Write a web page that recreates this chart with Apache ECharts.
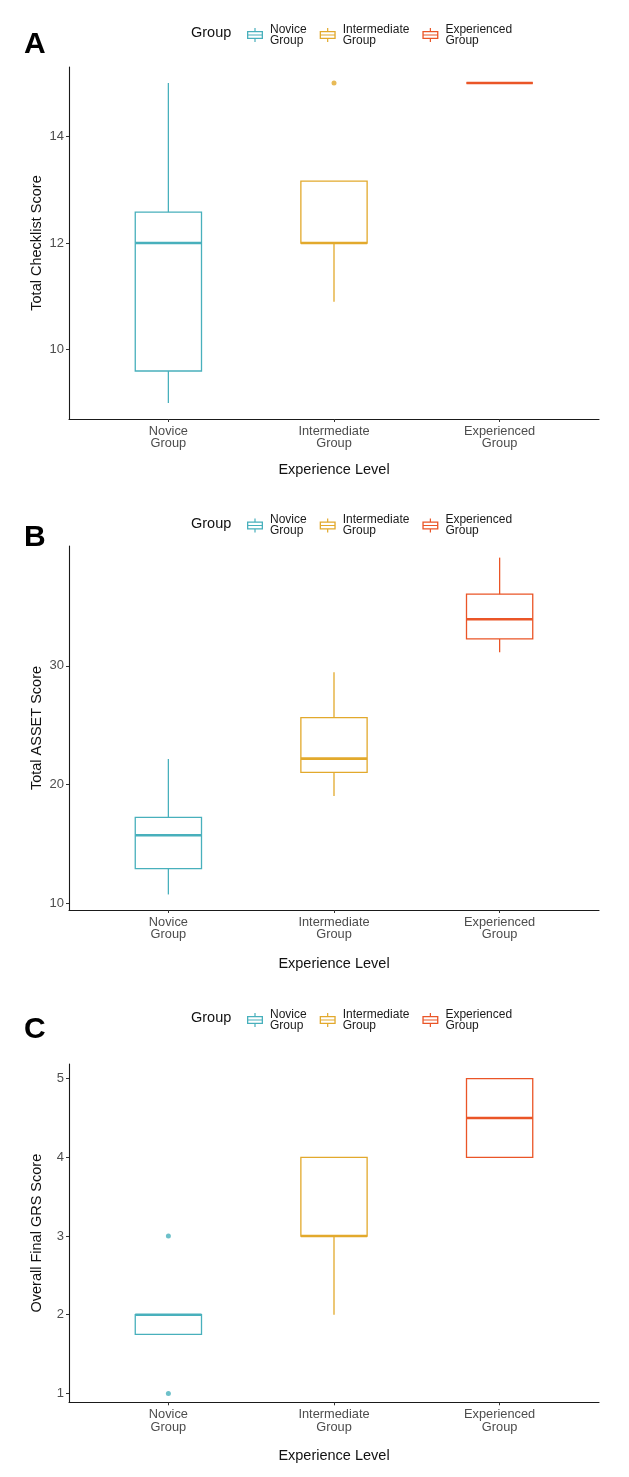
<!DOCTYPE html>
<html><head><meta charset="utf-8">
<script src="https://cdn.jsdelivr.net/npm/echarts@6/dist/echarts.min.js"></script>
<style>html,body{margin:0;padding:0;background:#fff}#chart{width:629px;height:1477px}</style>
</head><body><div id="chart"></div>
<script>
// ---------- data ----------
const categories = ['Novice Group', 'Intermediate Group', 'Experienced Group'];
const groupColors = ['#48B0BC', '#E2A92C', '#EA5527'];
// each box: [min, Q1, median, Q3, max]
const checklistBoxes = [[9, 9.6, 12, 12.58, 15], [10.9, 12, 12, 13.16, 13.16], [15, 15, 15, 15, 15]];
const checklistOutliers = [[], [15], []];
const assetBoxes = [[10.75, 12.92, 15.73, 17.25, 22.16], [19.04, 21.04, 22.19, 25.64, 29.47], [31.15, 32.27, 33.93, 36.04, 39.12]];
const assetOutliers = [[], [], []];
const grsBoxes = [[1.75, 1.75, 2, 2, 2], [2, 3, 3, 4, 4], [4, 4, 4.5, 5, 5]];
const grsOutliers = [[1, 3], [], []];
const checklistTicks = [10, 12, 14];
const assetTicks = [10, 20, 30];
const grsTicks = [1, 2, 3, 4, 5];
const panelLetters = ['A', 'B', 'C'];
const yTitles = ['Total Checklist Score', 'Total ASSET Score', 'Overall Final GRS Score'];
const xTitle = 'Experience Level';
const legendTitle = 'Group';

// ---------- layout ----------
const FONT = 'Liberation Sans, Arial, Helvetica, sans-serif';
const HALF_BOX = 0.2;
const panels = [
  {boxes: checklistBoxes, outliers: checklistOutliers, ticks: checklistTicks, min: 8.7, max: 15.3, top: 67, height: 352, legendTop: 22, groupTop: 24.5, letterTop: 30, nameGap: 43},
  {boxes: assetBoxes, outliers: assetOutliers, ticks: assetTicks, min: 9.44, max: 40.1, top: 546, height: 364, legendTop: 512.5, groupTop: 516, letterTop: 522.5, nameGap: 46},
  {boxes: grsBoxes, outliers: grsOutliers, ticks: grsTicks, min: 0.887, max: 5.187, top: 1064, height: 338.3, legendTop: 1007, groupTop: 1009.5, letterTop: 1014.5, nameGap: 46}
];
const ICON = 'path://M0,3H16V11H0Z M1.3,4.3V9.7H14.7V4.3Z M0,6.4H16V7.6H0Z M7.4,0H8.6V3H7.4Z M7.4,11H8.6V14H7.4Z';

function renderBox(params, api) {
  const x = api.value(0);
  const v = [1, 2, 3, 4, 5].map(i => api.value(i));
  const color = api.visual('color');
  const lo = api.coord([x, v[0]]), q1 = api.coord([x, v[1]]), q3 = api.coord([x, v[3]]), hi = api.coord([x, v[4]]);
  const tl = api.coord([x - HALF_BOX, v[3]]), br = api.coord([x + HALF_BOX, v[1]]);
  const ml = api.coord([x - HALF_BOX, v[2]]), mr = api.coord([x + HALF_BOX, v[2]]);
  const thin = {stroke: color, lineWidth: 1.3, fill: null};
  const children = [];
  if (v[0] < v[1]) children.push({type: 'line', shape: {x1: lo[0], y1: lo[1], x2: q1[0], y2: q1[1]}, style: thin});
  if (v[4] > v[3]) children.push({type: 'line', shape: {x1: q3[0], y1: q3[1], x2: hi[0], y2: hi[1]}, style: thin});
  children.push({type: 'rect', shape: {x: tl[0], y: tl[1], width: br[0] - tl[0], height: br[1] - tl[1]}, style: {stroke: color, lineWidth: 1.3, fill: null}});
  children.push({type: 'line', shape: {x1: ml[0], y1: ml[1], x2: mr[0], y2: mr[1]}, style: {stroke: color, lineWidth: 2.6, fill: null}});
  return {type: 'group', children: children};
}

const grid = [], xAxis = [], yAxis = [], series = [], legend = [], title = [];
const axisLine = {show: true, lineStyle: {color: '#1a1a1a', width: 1.1}};
const axisTickStyle = {lineStyle: {color: '#333', width: 1}};
panels.forEach((p, pi) => {
  grid.push({left: 69, top: p.top, width: 530, height: p.height});
  xAxis.push({
    type: 'value', gridIndex: pi, min: 0.4, max: 3.6,
    axisLine: axisLine, splitLine: {show: false},
    axisTick: Object.assign({show: true, length: 3, customValues: [1, 2, 3]}, axisTickStyle),
    axisLabel: {customValues: [1, 2, 3], formatter: v => categories[Math.round(v) - 1].replace(' ', '\n'),
      fontFamily: FONT, fontSize: 12.8, lineHeight: 12.6, color: '#4d4d4d', margin: 6},
    name: xTitle, nameLocation: 'middle', nameGap: p.nameGap, nameMoveOverlap: false,
    nameTextStyle: {fontFamily: FONT, fontSize: 14.5, lineHeight: 16, color: '#111'}
  });
  yAxis.push({
    type: 'value', gridIndex: pi, min: p.min, max: p.max,
    axisLine: axisLine, splitLine: {show: false},
    axisTick: Object.assign({show: true, length: 3, customValues: p.ticks}, axisTickStyle),
    axisLabel: {customValues: p.ticks, fontFamily: FONT, fontSize: 13, color: '#4d4d4d', margin: 5},
    name: yTitles[pi], nameLocation: 'middle', nameGap: 24, nameMoveOverlap: false,
    nameTextStyle: {fontFamily: FONT, fontSize: 14.5, lineHeight: 16, color: '#111'}
  });
  categories.forEach((c, gi) => {
    series.push({
      type: 'custom', name: c, xAxisIndex: pi, yAxisIndex: pi,
      data: [[gi + 1].concat(p.boxes[gi])],
      encode: {x: 0, y: [1, 2, 3, 4, 5]},
      itemStyle: {color: groupColors[gi]},
      renderItem: renderBox, silent: true
    });
    series.push({
      type: 'scatter', name: c, xAxisIndex: pi, yAxisIndex: pi,
      data: p.outliers[gi].map(v => [gi + 1, v]),
      symbolSize: 5, itemStyle: {color: groupColors[gi]}, silent: true
    });
  });
  legend.push({
    left: 247, top: p.legendTop, padding: 0, orient: 'horizontal', selectedMode: false,
    itemWidth: 16, itemHeight: 14, itemGap: 13,
    data: categories.map((c, gi) => ({name: c, icon: ICON, itemStyle: {color: groupColors[gi], borderWidth: 0}})),
    formatter: n => n.replace(' ', '\n'),
    textStyle: {fontFamily: FONT, fontSize: 12, lineHeight: 11, color: '#1a1a1a', padding: [4, 0, 0, 2]}
  });
  title.push({text: panelLetters[pi], left: 24, top: p.letterTop, padding: 0,
    textStyle: {fontFamily: FONT, fontSize: 30, fontWeight: 'bold', lineHeight: 30, color: '#000'}});
  title.push({text: legendTitle, left: 191, top: p.groupTop, padding: 0,
    textStyle: {fontFamily: FONT, fontSize: 14.5, fontWeight: 'normal', lineHeight: 16, color: '#111'}});
});

const chart = echarts.init(document.getElementById('chart'), null, {renderer: 'canvas'});
chart.setOption({animation: false, backgroundColor: '#fff', title, grid, xAxis, yAxis, legend, series});
</script></body></html>
